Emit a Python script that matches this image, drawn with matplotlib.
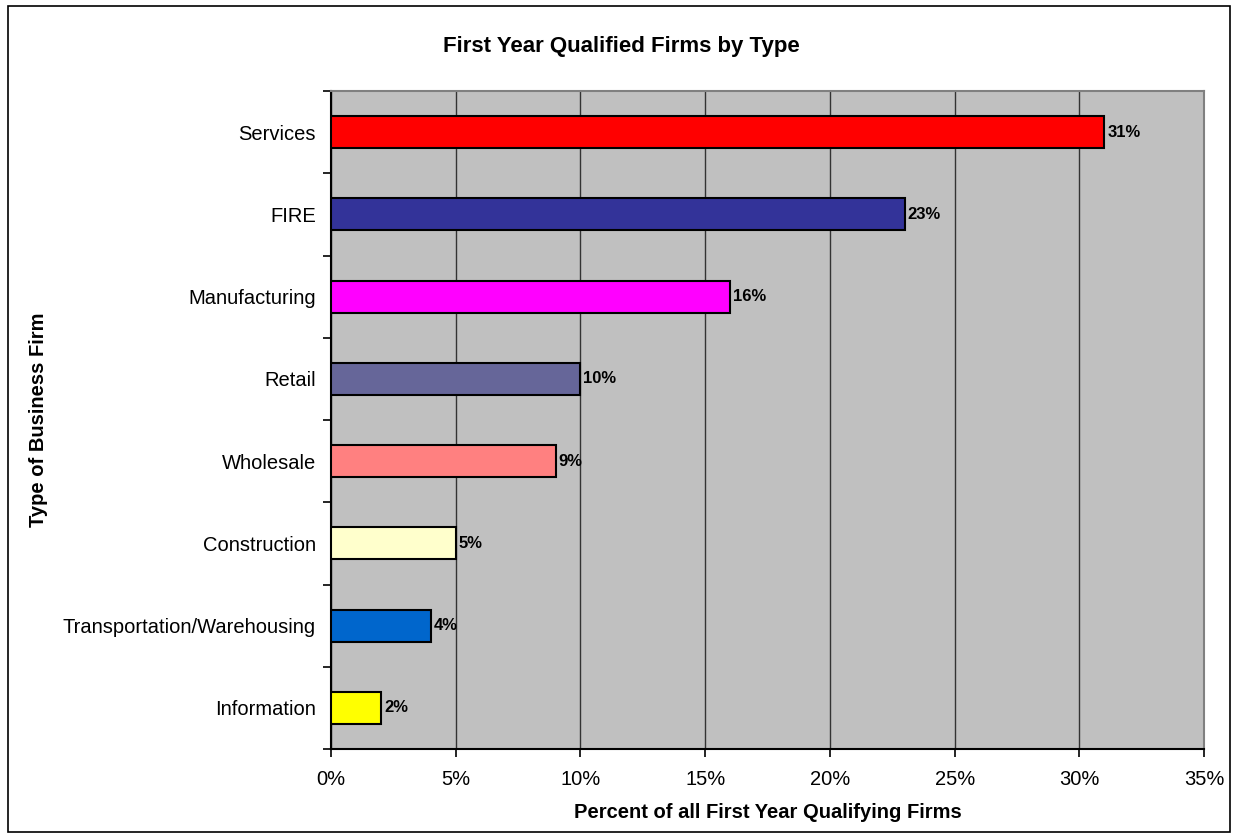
import matplotlib
matplotlib.use("Agg")
import matplotlib.pyplot as plt
from matplotlib.patches import Rectangle
from matplotlib.ticker import FuncFormatter, MultipleLocator

categories = ["Information", "Transportation/Warehousing", "Construction", "Wholesale",
              "Retail", "Manufacturing", "FIRE", "Services"]
percents = [2, 4, 5, 9, 10, 16, 23, 31]
colors = ["#FFFF00", "#0066CC", "#FFFFCC", "#FF8080",
          "#666699", "#FF00FF", "#333399", "#FF0000"]

plt.rcParams['font.family'] = ['Liberation Sans', 'DejaVu Sans']

fig = plt.figure(figsize=(12.38, 8.4), dpi=100)
ax = fig.add_axes([0.2674, 0.1083, 0.7052, 0.7833])
ax.set_facecolor("#C0C0C0")

ypos = list(range(len(categories)))
bars = ax.barh(ypos, percents, height=0.39, color=colors, edgecolor="black",
               linewidth=1.5, zorder=3)
for b, v in zip(bars, percents):
    ax.text(b.get_width() + 0.12, b.get_y() + b.get_height() / 2, "%d%%" % v,
            va="center", ha="left", fontsize=12, fontweight="bold", zorder=4)

ax.set_xlim(0, 35)
ax.set_ylim(-0.5, len(categories) - 0.5)
ax.xaxis.set_major_locator(MultipleLocator(5))
ax.xaxis.set_major_formatter(FuncFormatter(lambda x, p: "%d%%" % x))
ax.grid(axis="x", color="#333333", linewidth=1, zorder=1)

# category labels sit between tick marks
ax.set_yticks([y + 0.5 for y in range(-1, len(categories))])
ax.set_yticklabels([])
ax.set_yticks(ypos, minor=True)
ax.set_yticklabels(categories, minor=True, fontsize=14.5)
ax.tick_params(axis="y", which="minor", length=0, pad=11)
ax.tick_params(axis="y", which="major", length=6, width=1.2, direction="out")
ax.tick_params(axis="x", length=6, width=1.2, direction="out", labelsize=14.5, pad=9)

for side in ["left", "bottom"]:
    ax.spines[side].set_color("black")
    ax.spines[side].set_linewidth(1.5)
for side in ["top", "right"]:
    ax.spines[side].set_color("#808080")
    ax.spines[side].set_linewidth(1.5)

ax.set_xlabel("Percent of all First Year Qualifying Firms", fontsize=14.5,
              fontweight="bold", labelpad=10)
ax.set_ylabel("Type of Business Firm", fontsize=14.5, fontweight="bold")
ax.yaxis.set_label_coords(-0.3245, 0.5)
fig.text(0.502, 0.945, "First Year Qualified Firms by Type", ha="center", va="center",
         fontsize=16, fontweight="bold")

fig.patches.append(Rectangle((0.0065, 0.0095), 0.987, 0.983, transform=fig.transFigure,
                             fill=False, edgecolor="black", linewidth=1.2))

fig.savefig("out.png", dpi=100)
